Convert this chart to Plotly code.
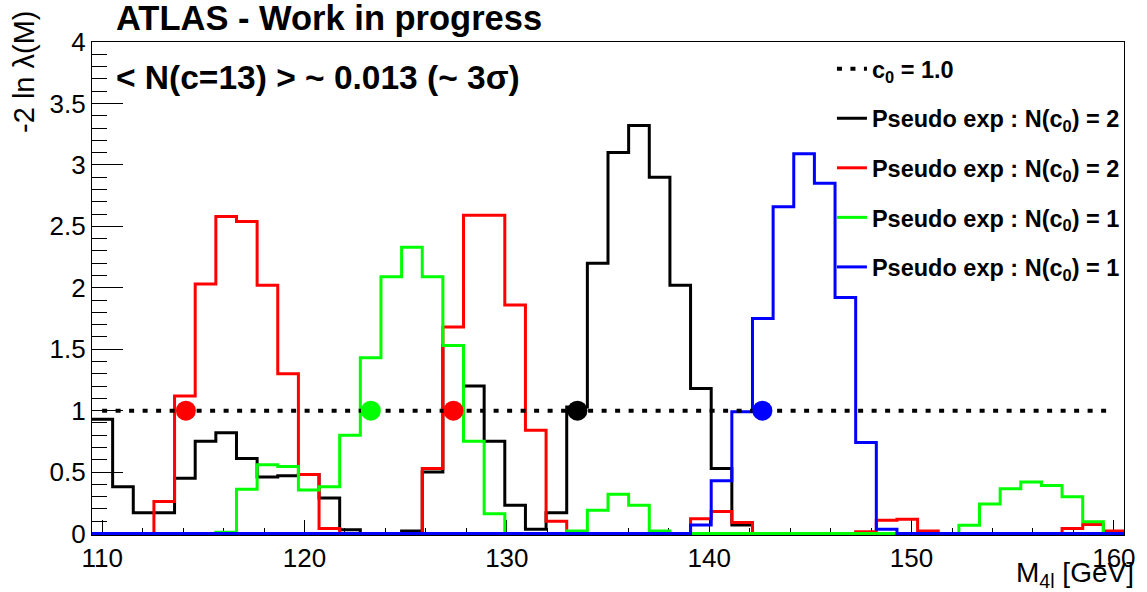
import numpy as np
import plotly.graph_objects as go

# ---------------- data ----------------
bin_lo, bin_hi, n_bins = 109.5, 160.5, 50

black_vals = [0.93, 0.38, 0.17, 0.17, 0.45, 0.75, 0.82, 0.61, 0.46, 0.47,
              0.48, 0.29, 0.03, 0.0, 0.0, 0.02, 0.50, 1.53, 1.20, 0.75,
              0.23, 0.035, 0.17, 1.03, 2.20, 3.10, 3.32, 2.90, 2.02, 1.18,
              0.53, 0.07, 0.0, 0.0, 0.0, 0.0, 0.0, 0.0, 0.0, 0.0,
              0.0, 0.0, 0.0, 0.0, 0.0, 0.0, 0.0, 0.0, 0.0, 0.0]
red_vals = [0.0, 0.0, 0.0, 0.26, 1.12, 2.03, 2.58, 2.54, 2.02, 1.30,
            0.48, 0.04, 0.0, 0.0, 0.0, 0.0, 0.53, 1.68, 2.59, 2.59,
            1.86, 0.84, 0.10, 0.0, 0.0, 0.0, 0.0, 0.0, 0.0, 0.12,
            0.18, 0.09, 0.0, 0.0, 0.0, 0.0, 0.0, 0.014, 0.108, 0.116,
            0.02, 0.0, 0.0, 0.0, 0.0, 0.0, 0.0, 0.04, 0.073, 0.02]
green_vals = [0.0, 0.0, 0.0, 0.0, 0.0, 0.0, 0.01, 0.36, 0.56, 0.545,
              0.355, 0.38, 0.80, 1.43, 2.09, 2.33, 2.09, 1.53, 0.75, 0.16,
              0.0, 0.0, 0.0, 0.02, 0.19, 0.32, 0.23, 0.02, 0.0, 0.0,
              0.0, 0.0, 0.0, 0.0, 0.0, 0.0, 0.0, 0.0, 0.0, 0.0,
              0.0, 0.0, 0.068, 0.24, 0.365, 0.42, 0.39, 0.30, 0.095, 0.0]
blue_vals = [0.0] * 29 + [0.07, 0.43, 0.99, 1.75, 2.66, 3.09, 2.85, 1.92, 0.74, 0.035] + [0.0] * 11

ref_level = 1.0
ref_x = [110, 160]

cross_x = [114.14, 123.28, 127.36, 133.49, 142.63]
cross_y = [1.0, 1.0, 1.0, 1.0, 1.0]
cross_colors = ["#ff0000", "#00ff00", "#ff0000", "#000000", "#0000ff"]

series = [
    ("Pseudo exp : N(c<sub>0</sub>) = 2", black_vals, "#000000"),
    ("Pseudo exp : N(c<sub>0</sub>) = 2", red_vals, "#ff0000"),
    ("Pseudo exp : N(c<sub>0</sub>) = 1", green_vals, "#00ff00"),
    ("Pseudo exp : N(c<sub>0</sub>) = 1", blue_vals, "#0000ff"),
]

# ---------------- figure ----------------
edges = np.linspace(bin_lo, bin_hi, n_bins + 1)
FONT = "Liberation Sans, Arial, Helvetica, sans-serif"

fig = go.Figure()
for i, (name, vals, col) in enumerate(series):
    fig.add_trace(go.Scatter(
        x=list(edges), y=list(vals) + [vals[-1]],
        mode="lines", line=dict(color=col, width=3, shape="hv"),
        name=name, legendgroup=f"g{i+1}", legendrank=i + 2,
    ))

fig.add_trace(go.Scatter(
    x=ref_x, y=[ref_level, ref_level], mode="lines",
    line=dict(color="black", width=4, dash="5px,8.5px"),
    name="c<sub>0</sub> = 1.0", legendgroup="g0", legendrank=1,
))

fig.add_trace(go.Scatter(
    x=cross_x, y=cross_y, mode="markers",
    marker=dict(color=cross_colors, size=20, line=dict(width=0)),
    showlegend=False,
))

fig.update_layout(
    width=1147, height=592,
    margin=dict(l=92, r=14, t=42, b=57),
    paper_bgcolor="white", plot_bgcolor="white",
    font=dict(family=FONT, color="black"),
    legend=dict(
        x=0.717, y=0.99, xanchor="left", yanchor="top",
        bgcolor="rgba(0,0,0,0)", borderwidth=0,
        font=dict(family=FONT, size=23.5, color="black", weight="bold"),
        traceorder="grouped", tracegroupgap=16,
    ),
    xaxis=dict(
        range=[bin_lo, bin_hi], showgrid=False, zeroline=False,
        showline=True, linecolor="black", linewidth=1.2, mirror=True,
        ticks="inside", ticklen=15, tickcolor="black", tickwidth=1.2,
        tick0=110, dtick=10,
        minor=dict(ticks="inside", ticklen=7, dtick=2, tickcolor="black", tickwidth=1.2),
        tickfont=dict(family=FONT, size=26, color="black"),
        layer="below traces",
    ),
    yaxis=dict(
        range=[-0.012, 4], showgrid=False, zeroline=False,
        showline=True, linecolor="black", linewidth=1.2, mirror=True,
        ticks="inside", ticklen=31, tickcolor="black", tickwidth=1.2,
        tick0=0, dtick=0.5,
        minor=dict(ticks="inside", ticklen=15, dtick=0.1, tickcolor="black", tickwidth=1.2),
        tickfont=dict(family=FONT, size=26, color="black"),
        layer="below traces",
    ),
)

fig.add_annotation(
    text="<b>ATLAS - Work in progress</b>", xref="paper", yref="paper",
    x=0.021, y=1.049, xanchor="left", yanchor="middle", showarrow=False,
    font=dict(family=FONT, size=34.5, color="black"),
)
fig.add_annotation(
    text="<b>&lt; N(c=13) &gt; ~ 0.013 (~ 3σ)</b>", xref="paper", yref="paper",
    x=0.021, y=0.927, xanchor="left", yanchor="middle", showarrow=False,
    font=dict(family=FONT, size=33.5, color="black"),
)
fig.add_annotation(
    text="-2 ln λ(M)", xref="paper", yref="paper", textangle=-90,
    x=-0.066, y=0.939, xanchor="center", yanchor="middle", showarrow=False,
    font=dict(family=FONT, size=29, color="black"),
)
fig.add_annotation(
    text="M<sub>4l</sub> [GeV]", xref="paper", yref="paper",
    x=1.012, y=-0.08, xanchor="right", yanchor="middle", showarrow=False,
    font=dict(family=FONT, size=28, color="black"),
)

fig.write_html("out.html")
